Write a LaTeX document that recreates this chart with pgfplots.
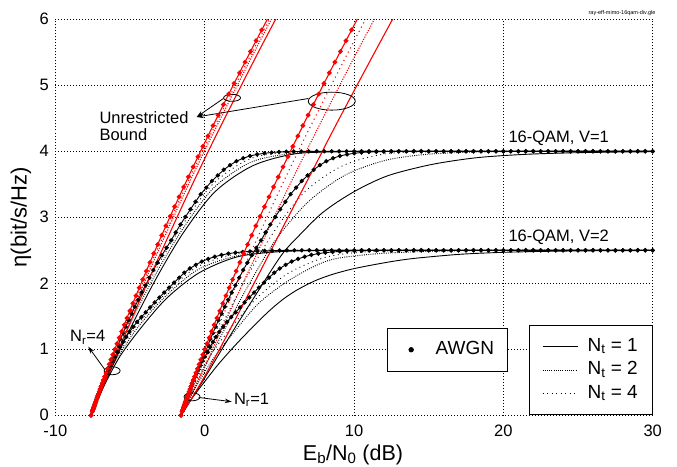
\documentclass[border=0pt]{standalone}
\usepackage{fontspec}
\setmainfont{Liberation Sans}
\usepackage{pgfplots}
\pgfplotsset{compat=1.18}
\usetikzlibrary{arrows.meta}
\pgfplotsset{
 awgnK/.style={black, line width=0.9pt, mark=*, mark size=1.7pt, mark options={solid}, forget plot},
 ntoneK/.style={black, line width=0.9pt, smooth, tension=0.5, forget plot},
 nttwoK/.style={black, line width=0.9pt, dash pattern=on 0.9pt off 1.3pt, smooth, tension=0.5, forget plot},
 ntfourK/.style={black, line width=0.9pt, dash pattern=on 0.9pt off 3.6pt, smooth, tension=0.5, forget plot},
 awgnR/.style={red, line width=1.1pt, mark=*, mark size=1.8pt, mark options={solid}, forget plot},
 ntoneR/.style={red, line width=1.1pt, smooth, tension=0.5, forget plot},
 nttwoR/.style={red, line width=1.1pt, dash pattern=on 1.1pt off 1.4pt, smooth, tension=0.5, forget plot},
 ntfourR/.style={red, line width=1.1pt, dash pattern=on 1.1pt off 3.6pt, smooth, tension=0.5, forget plot},
}
\begin{document}
\begin{tikzpicture}
\path[use as bounding box] (-55.4pt,-50.7pt) rectangle (621.6pt,415.3pt);
\begin{axis}[
  at={(0pt,0pt)}, anchor=south west,
  scale only axis, width=597.3pt, height=396pt,
  xmin=-10, xmax=30, ymin=0, ymax=6,
  xtick={-10,0,10,20,30}, ytick={0,1,2,3,4,5,6},
  grid=major, grid style={black, line width=0.8pt, dash pattern=on 0.8pt off 2.2pt},
  axis line style={draw=none},
  major tick length=0pt,
  ticklabel style={font=\fontsize{16.5}{19}\selectfont},
  xticklabel style={yshift=-6pt},
  yticklabel style={xshift=-3pt},
  /pgf/number format/assume math mode=true,
  legend style={at={(rel axis cs:1,0)}, anchor=south east, draw=black, line width=0.9pt,
    fill=white, font=\fontsize{19}{22}\selectfont,
    nodes={font=\fontsize{19}{22}\selectfont, inner xsep=1.5pt, inner ysep=1.5pt, text height=13.5pt, text depth=4.5pt},
    inner xsep=13pt, inner ysep=10.5pt, row sep=2.5pt,
    /tikz/every odd column/.append style={column sep=8pt},
    cells={anchor=west}},
  legend image code/.code={\draw[#1, line width=0.9pt] (0pt,0pt) -- (35pt,0pt);},
]
% ---------- Nr = 1, V = 1 ----------
\addplot[awgnK] coordinates {(-1.592,0) (-1.507,0.0563) (-1.485,0.0706) (-1.459,0.0883) (-1.424,0.1103) (-1.406,0.1232) (-1.383,0.1375) (-1.359,0.1534) (-1.332,0.1711) (-1.301,0.1906) (-1.269,0.2122) (-1.232,0.2361) (-1.191,0.2625) (-1.146,0.2915) (-1.096,0.3233) (-1.041,0.3582) (-0.981,0.3964) (-0.915,0.4381) (-0.844,0.4835) (-0.759,0.532) (-0.672,0.585) (-0.569,0.641) (-0.463,0.702) (-0.342,0.766) (-0.217,0.835) (-0.081,0.908) (0.088,0.98) (0.226,1.065) (0.374,1.155) (0.548,1.245) (0.729,1.34) (0.916,1.44) (1.125,1.54) (1.338,1.645) (1.570,1.75) (1.805,1.86) (2.055,1.97) (2.309,2.085) (2.576,2.20) (2.860,2.312) (3.153,2.425) (3.457,2.537) (3.768,2.65) (4.075,2.77) (4.391,2.89) (4.722,3.005) (5.058,3.12) (5.401,3.235) (5.750,3.35) (6.122,3.45) (6.498,3.55) (6.895,3.635) (7.295,3.72) (7.714,3.79) (8.145,3.85) (8.595,3.895) (9.056,3.93) (9.531,3.953) (10.012,3.97) (10.499,3.982) (10.990,3.99) (11.486,3.994) (11.983,3.997) (12.482,3.998) (12.980,3.999) (13.5,4) (14,4) (14.5,4) (15,4) (15.5,4) (16,4) (16.5,4) (17,4) (17.5,4) (18,4) (18.5,4) (19,4) (19.5,4) (20,4) (20.5,4) (21,4) (21.5,4) (22,4) (22.5,4) (23,4) (23.5,4) (24,4) (24.5,4) (25,4) (25.5,4) (26,4) (26.5,4) (27,4) (27.5,4) (28,4) (28.5,4) (29,4) (29.5,4) (30,4)};
\addplot[ntoneK] coordinates {(-1.592,0) (-1.21,0.1322) (-0.896,0.2458) (-0.132,0.5167) (0.735,0.8443) (1.912,1.2845) (3.401,1.8193) (5.15,2.43) (6.39,2.74) (7.73,3.04) (9.0,3.25) (10.5,3.45) (12.39,3.64) (15.19,3.80) (18.09,3.90) (21.04,3.949) (23.99,3.974) (27.0,3.987) (30.0,3.9935)};
\addplot[nttwoK] coordinates {(-1.592,0) (-1.03,0.253) (-0.375,0.5464) (0.414,0.9092) (1.550,1.3963) (2.996,1.997) (4.754,2.6584) (6.91,3.23) (9.39,3.638) (12.13,3.865) (15.03,3.957) (17.99,3.988) (20.98,3.997) (24,4) (30,4)};
\addplot[ntfourK] coordinates {(-1.592,0) (-0.99,0.315) (-0.515,0.5643) (0.243,0.9455) (1.355,1.4606) (2.804,2.0873) (4.584,2.7643) (6.703,3.3861) (9.225,3.78) (12.02,3.96) (14.99,3.9925) (18,4) (30,4)};
% ---------- Nr = 1, V = 2 ----------
\addplot[awgnK] coordinates {(-1.592,0) (-1.507,0.0563) (-1.485,0.0706) (-1.459,0.0883) (-1.424,0.1103) (-1.406,0.1232) (-1.383,0.1375) (-1.359,0.1534) (-1.332,0.1711) (-1.301,0.1906) (-1.269,0.2122) (-1.232,0.2361) (-1.191,0.2625) (-1.146,0.2915) (-1.096,0.3233) (-1.041,0.3582) (-0.981,0.3964) (-0.915,0.4381) (-0.844,0.4835) (-0.751,0.531) (-0.657,0.583) (-0.541,0.637) (-0.420,0.695) (-0.291,0.757) (-0.154,0.823) (0.006,0.89) (0.200,0.955) (0.359,1.033) (0.547,1.11) (0.752,1.188) (0.979,1.265) (1.229,1.34) (1.492,1.415) (1.774,1.488) (2.069,1.56) (2.365,1.635) (2.670,1.71) (2.984,1.785) (3.305,1.86) (3.633,1.935) (3.968,2.01) (4.309,2.085) (4.655,2.16) (5.026,2.225) (5.421,2.28) (5.826,2.33) (6.253,2.37) (6.693,2.403) (7.144,2.43) (7.608,2.45) (8.082,2.465) (8.564,2.475) (9.050,2.483) (9.541,2.488) (10.034,2.492) (10.529,2.495) (11.026,2.497) (11.522,2.499) (12,2.5) (12.5,2.5) (13,2.5) (13.5,2.5) (14,2.5) (14.5,2.5) (15,2.5) (15.5,2.5) (16,2.5) (16.5,2.5) (17,2.5) (17.5,2.5) (18,2.5) (18.5,2.5) (19,2.5) (19.5,2.5) (20,2.5) (20.5,2.5) (21,2.5) (21.5,2.5) (22,2.5) (22.5,2.5) (23,2.5) (23.5,2.5) (24,2.5) (24.5,2.5) (25,2.5) (25.5,2.5) (26,2.5) (26.5,2.5) (27,2.5) (27.5,2.5) (28,2.5) (28.5,2.5) (29,2.5) (29.5,2.5) (30,2.5)};
\addplot[ntoneK] coordinates {(-1.592,0) (-1.21,0.1322) (-0.896,0.2458) (-0.024,0.504) (0.995,0.7953) (2.400,1.1481) (4.121,1.54) (5.2,1.75) (6.191,1.90) (7.4,2.04) (8.621,2.14) (9.95,2.22) (11.40,2.285) (12.8,2.34) (14.22,2.382) (17.12,2.44) (20.07,2.47) (23.05,2.485) (26.03,2.4925) (29.03,2.4963) (30.5,2.4975)};
\addplot[nttwoK] coordinates {(-1.592,0) (-1.03,0.253) (-0.31,0.5383) (0.607,0.8696) (1.977,1.2656) (3.671,1.7097) (5.836,2.072) (8.296,2.3466) (11.13,2.44) (14.06,2.4766) (17.03,2.4934) (20.02,2.498) (30,2.5)};
\addplot[ntfourK] coordinates {(-1.592,0) (-0.99,0.315) (-0.472,0.5587) (0.397,0.9126) (1.764,1.3293) (3.499,1.7789) (5.655,2.1602) (8.197,2.4008) (11.055,2.48) (14.03,2.497) (17.02,2.5) (30,2.5)};
% ---------- Nr = 4, V = 1 ----------
\addplot[awgnK] coordinates {(-7.612,0) (-7.527,0.0563) (-7.505,0.0706) (-7.479,0.0883) (-7.444,0.1103) (-7.426,0.1232) (-7.403,0.1375) (-7.379,0.1534) (-7.352,0.1711) (-7.321,0.1906) (-7.289,0.2122) (-7.252,0.2361) (-7.211,0.2625) (-7.166,0.2915) (-7.116,0.3233) (-7.061,0.3582) (-7.001,0.3964) (-6.935,0.4381) (-6.864,0.4835) (-6.779,0.532) (-6.692,0.585) (-6.589,0.641) (-6.483,0.702) (-6.362,0.766) (-6.237,0.835) (-6.101,0.908) (-5.932,0.98) (-5.794,1.065) (-5.646,1.155) (-5.472,1.245) (-5.291,1.34) (-5.104,1.44) (-4.895,1.54) (-4.682,1.645) (-4.450,1.75) (-4.215,1.86) (-3.965,1.97) (-3.711,2.085) (-3.444,2.20) (-3.160,2.312) (-2.867,2.425) (-2.563,2.537) (-2.252,2.65) (-1.945,2.77) (-1.629,2.89) (-1.298,3.005) (-0.962,3.12) (-0.619,3.235) (-0.270,3.35) (0.102,3.45) (0.478,3.55) (0.875,3.635) (1.275,3.72) (1.694,3.79) (2.125,3.85) (2.575,3.895) (3.036,3.93) (3.511,3.953) (3.992,3.97) (4.479,3.982) (4.970,3.99) (5.466,3.994) (5.963,3.997) (6.462,3.998) (6.960,3.999) (7.5,4) (8,4) (8.5,4) (9,4) (9.5,4) (10,4) (10.5,4) (11,4) (11.5,4) (12,4) (12.5,4) (13,4) (13.5,4) (14,4) (14.5,4) (15,4) (15.5,4) (16,4) (16.5,4) (17,4) (17.5,4) (18,4) (18.5,4) (19,4) (19.5,4) (20,4) (20.5,4) (21,4) (21.5,4) (22,4) (22.5,4) (23,4) (23.5,4) (24,4) (24.5,4) (25,4) (25.5,4) (26,4) (26.5,4) (27,4) (27.5,4) (28,4) (28.5,4) (29,4) (29.5,4) (30,4)};
\addplot[ntoneK] coordinates {(-7.612,0) (-7.01,0.315) (-6.535,0.5643) (-5.777,0.9455) (-4.665,1.4606) (-3.216,2.0873) (-1.436,2.7643) (0.683,3.3861) (3.205,3.78) (6.0,3.96) (8.97,3.9925) (11.98,4) (30,4)};
\addplot[nttwoK] coordinates {(-7.612,0) (-7.06,0.315) (-6.607,0.5737) (-5.833,0.9579) (-4.765,1.4943) (-3.306,2.1312) (-1.509,2.8115) (0.606,3.4467) (3.138,3.839) (5.99,3.9707) (8.96,3.998) (11.96,4) (30,4)};
\addplot[ntfourK] coordinates {(-7.612,0) (-7.10,0.315) (-6.649,0.5793) (-5.889,0.9704) (-4.832,1.5176) (-3.379,2.1673) (-1.576,2.855) (0.537,3.5019) (3.08,3.8907) (5.97,3.9904) (8.96,4) (30,4)};
% ---------- Nr = 4, V = 2 ----------
\addplot[awgnK] coordinates {(-7.612,0) (-7.527,0.0563) (-7.505,0.0706) (-7.479,0.0883) (-7.444,0.1103) (-7.426,0.1232) (-7.403,0.1375) (-7.379,0.1534) (-7.352,0.1711) (-7.321,0.1906) (-7.289,0.2122) (-7.252,0.2361) (-7.211,0.2625) (-7.166,0.2915) (-7.116,0.3233) (-7.061,0.3582) (-7.001,0.3964) (-6.935,0.4381) (-6.864,0.4835) (-6.771,0.531) (-6.677,0.583) (-6.561,0.637) (-6.440,0.695) (-6.311,0.757) (-6.174,0.823) (-6.014,0.89) (-5.820,0.955) (-5.661,1.033) (-5.473,1.11) (-5.268,1.188) (-5.041,1.265) (-4.791,1.34) (-4.528,1.415) (-4.246,1.488) (-3.951,1.56) (-3.655,1.635) (-3.350,1.71) (-3.036,1.785) (-2.715,1.86) (-2.387,1.935) (-2.052,2.01) (-1.711,2.085) (-1.365,2.16) (-0.994,2.225) (-0.599,2.28) (-0.194,2.33) (0.233,2.37) (0.673,2.403) (1.124,2.43) (1.588,2.45) (2.062,2.465) (2.544,2.475) (3.030,2.483) (3.521,2.488) (4.014,2.492) (4.509,2.495) (5.006,2.497) (5.502,2.499) (6,2.5) (6.5,2.5) (7,2.5) (7.5,2.5) (8,2.5) (8.5,2.5) (9,2.5) (9.5,2.5) (10,2.5) (10.5,2.5) (11,2.5) (11.5,2.5) (12,2.5) (12.5,2.5) (13,2.5) (13.5,2.5) (14,2.5) (14.5,2.5) (15,2.5) (15.5,2.5) (16,2.5) (16.5,2.5) (17,2.5) (17.5,2.5) (18,2.5) (18.5,2.5) (19,2.5) (19.5,2.5) (20,2.5) (20.5,2.5) (21,2.5) (21.5,2.5) (22,2.5) (22.5,2.5) (23,2.5) (23.5,2.5) (24,2.5) (24.5,2.5) (25,2.5) (25.5,2.5) (26,2.5) (26.5,2.5) (27,2.5) (27.5,2.5) (28,2.5) (28.5,2.5) (29,2.5) (29.5,2.5) (30,2.5)};
\addplot[ntoneK] coordinates {(-7.612,0) (-7.01,0.315) (-6.492,0.5587) (-5.623,0.9126) (-4.256,1.3293) (-2.521,1.7789) (-0.365,2.1602) (2.177,2.4008) (5.035,2.48) (8.01,2.497) (11,2.5) (30,2.5)};
\addplot[nttwoK] coordinates {(-7.612,0) (-7.06,0.315) (-6.58,0.5702) (-5.696,0.9282) (-4.371,1.3648) (-2.595,1.8094) (-0.459,2.2076) (2.15,2.4158) (5.026,2.4853) (8.0,2.4985) (11.0,2.5) (30,2.5)};
\addplot[ntfourK] coordinates {(-7.612,0) (-7.10,0.315) (-6.628,0.5764) (-5.766,0.9432) (-4.452,1.3905) (-2.663,1.838) (-0.531,2.2445) (2.094,2.4469) (5.011,2.494) (8.0,2.5) (30,2.5)};
% ---------- unrestricted bound, Nr = 1 ----------
\addplot[ntoneR] coordinates {(-1.592,0) (-1.21,0.1322) (-0.896,0.2458) (-0.18,0.5213) (0.654,0.8603) (1.767,1.3315) (3.656,2.1546) (5.366,2.9065) (7.286,3.7361) (8.47,4.262) (10.05,4.9377) (12.30,5.884) (14.65,6.8525)};
\addplot[nttwoR] coordinates {(-1.592,0) (-1.026,0.2533) (-0.411,0.5497) (0.355,0.9215) (1.419,1.4427) (2.781,2.1085) (4.994,3.1663) (6.926,4.0585) (9.741,5.3078) (12.02,6.2816)};
\addplot[ntfourR] coordinates {(-1.592,0) (-0.984,0.3151) (-0.716,0.4716) (0.186,0.958) (1.222,1.5094) (2.576,2.2104) (4.801,3.3105) (6.751,4.2261) (9.591,5.4938) (11.888,6.4751)};
\addplot[awgnR] coordinates {(-1.592,0) (-1.507,0.0563) (-1.485,0.0706) (-1.459,0.0883) (-1.424,0.1103) (-1.406,0.1232) (-1.383,0.1375) (-1.359,0.1534) (-1.332,0.1711) (-1.301,0.1906) (-1.269,0.2122) (-1.232,0.2361) (-1.191,0.2625) (-1.146,0.2915) (-1.096,0.3233) (-1.041,0.3582) (-0.981,0.3964) (-0.915,0.4381) (-0.844,0.4835) (-0.765,0.5328) (-0.680,0.5861) (-0.587,0.6437) (-0.486,0.7057) (-0.378,0.7723) (-0.261,0.8435) (-0.135,0.9193) (0,1) (0.146,1.0848) (0.297,1.1756) (0.459,1.2708) (0.633,1.3701) (0.815,1.4742) (1.006,1.5827) (1.207,1.6954) (1.418,1.8122) (1.638,1.9330) (1.867,2.0574) (2.105,2.1853) (2.352,2.3165) (2.607,2.4507) (2.871,2.5878) (3.142,2.7276) (3.422,2.8698) (3.708,3.0143) (4.002,3.1608) (4.303,3.3092) (4.610,3.4594) (4.923,3.6112) (5.243,3.7643) (5.568,3.9189) (5.899,4.0746) (6.235,4.2313) (6.576,4.3890) (6.922,4.5476) (7.273,4.7070) (7.627,4.8671) (7.986,5.0278) (8.349,5.1890) (8.716,5.3509) (9.086,5.5131) (9.460,5.6758) (9.837,5.8388) (10.217,6.0022) (10.600,6.1658)};
% ---------- unrestricted bound, Nr = 4 ----------
\addplot[ntoneR] coordinates {(-7.612,0) (-7.0,0.315) (-6.736,0.4716) (-5.834,0.958) (-4.798,1.5094) (-3.444,2.2104) (-1.219,3.3105) (0.731,4.2261) (3.571,5.4938) (5.868,6.4751)};
\addplot[nttwoR] coordinates {(-7.612,0) (-7.06,0.315) (-6.811,0.4716) (-5.965,0.958) (-4.974,1.5094) (-3.660,2.2104) (-1.471,3.3105) (0.463,4.2261) (3.291,5.4938) (5.583,6.4751)};
\addplot[ntfourR] coordinates {(-7.612,0) (-7.10,0.315) (-6.847,0.4716) (-6.027,0.958) (-5.059,1.5094) (-3.764,2.2104) (-1.593,3.3105) (0.334,4.2261) (3.157,5.4938) (5.447,6.4751)};
\addplot[awgnR] coordinates {(-7.612,0) (-7.527,0.0563) (-7.505,0.0706) (-7.479,0.0883) (-7.444,0.1103) (-7.426,0.1232) (-7.403,0.1375) (-7.379,0.1534) (-7.352,0.1711) (-7.321,0.1906) (-7.289,0.2122) (-7.252,0.2361) (-7.211,0.2625) (-7.166,0.2915) (-7.116,0.3233) (-7.061,0.3582) (-7.001,0.3964) (-6.935,0.4381) (-6.864,0.4835) (-6.785,0.5328) (-6.700,0.5861) (-6.607,0.6437) (-6.506,0.7057) (-6.398,0.7723) (-6.281,0.8435) (-6.155,0.9193) (-6.020,1) (-5.874,1.0848) (-5.723,1.1756) (-5.561,1.2708) (-5.387,1.3701) (-5.205,1.4742) (-5.014,1.5827) (-4.813,1.6954) (-4.602,1.8122) (-4.382,1.9330) (-4.153,2.0574) (-3.915,2.1853) (-3.668,2.3165) (-3.413,2.4507) (-3.149,2.5878) (-2.878,2.7276) (-2.598,2.8698) (-2.312,3.0143) (-2.018,3.1608) (-1.717,3.3092) (-1.410,3.4594) (-1.097,3.6112) (-0.777,3.7643) (-0.452,3.9189) (-0.121,4.0746) (0.215,4.2313) (0.556,4.3890) (0.902,4.5476) (1.253,4.7070) (1.607,4.8671) (1.966,5.0278) (2.329,5.1890) (2.696,5.3509) (3.066,5.5131) (3.440,5.6758) (3.817,5.8388) (4.197,6.0022) (4.580,6.1658)};
% ---------- legend (N_t) ----------
\addlegendimage{black, solid}
\addlegendentry{N\textsubscript{t} = 1}
\addlegendimage{black, dash pattern=on 0.9pt off 1.3pt}
\addlegendentry{N\textsubscript{t} = 2}
\addlegendimage{black, dash pattern=on 0.9pt off 3.6pt}
\addlegendentry{N\textsubscript{t} = 4}
% ---------- annotations ----------
\draw[line width=0.8pt] (axis cs:1.83,4.81) ellipse [x radius=8.5pt, y radius=3.5pt];
\draw[line width=0.8pt] (axis cs:8.51,4.76) ellipse [x radius=23.5pt, y radius=9pt];
\draw[line width=0.8pt, -{Stealth[length=7pt, width=4.5pt]}] (axis cs:1.25,4.80) -- (axis cs:-0.54,4.52);
\draw[line width=0.8pt, -{Stealth[length=7pt, width=4.5pt]}] (axis cs:6.94,4.80) -- (axis cs:-0.54,4.52);
\node[anchor=base west, inner sep=0pt, font=\fontsize{16.5}{19}\selectfont] at (axis cs:-7.06,4.414) {Unrestricted};
\node[anchor=base west, inner sep=0pt, font=\fontsize{16.5}{19}\selectfont] at (axis cs:-7.06,4.17) {Bound};
\draw[line width=0.8pt] (axis cs:-6.2,0.675) ellipse [x radius=8pt, y radius=4pt];
\draw[line width=0.8pt, -{Stealth[length=7pt, width=4.5pt]}] (axis cs:-6.68,0.69) -- (axis cs:-7.80,1.04);
\node[anchor=base west, inner sep=0pt, font=\fontsize{16.5}{19}\selectfont] at (axis cs:-9.02,1.115) {N\textsubscript{r}=4};
\draw[line width=0.8pt] (axis cs:-0.85,0.28) ellipse [x radius=8pt, y radius=4pt];
\draw[line width=0.8pt, -{Stealth[length=7pt, width=4.5pt]}] (axis cs:-0.4,0.27) -- (axis cs:1.81,0.206);
\node[anchor=base west, inner sep=0pt, font=\fontsize{16.5}{19}\selectfont] at (axis cs:1.95,0.17) {N\textsubscript{r}=1};
\node[anchor=base west, inner sep=0pt, font=\fontsize{16.5}{19}\selectfont] at (axis cs:20.33,4.13) {16-QAM, V=1};
\node[anchor=base west, inner sep=0pt, font=\fontsize{16.5}{19}\selectfont] at (axis cs:20.33,2.63) {16-QAM, V=2};
\end{axis}
\begin{axis}[
  at={(0pt,0pt)}, anchor=south west,
  scale only axis, width=597.3pt, height=396pt,
  xmin=-10, xmax=30, ymin=0, ymax=6,
  hide axis,
  legend style={at={(rel axis cs:0.5547,0.1101)}, anchor=south west, draw=black, line width=0.9pt,
    fill=white, font=\fontsize{19}{22}\selectfont,
    nodes={font=\fontsize{19}{22}\selectfont, inner xsep=1.5pt, inner ysep=1.5pt, text height=13.5pt, text depth=4.5pt},
    inner xsep=12pt, inner ysep=11pt},
  legend image code/.code={\path[draw=none, fill=none] (0pt,-1pt) rectangle (35pt,1pt); \draw[mark repeat=2, mark phase=2, #1] plot coordinates {(0pt,0pt) (12pt,0pt) (35pt,0pt)};},
]
\addlegendimage{only marks, mark=*, mark size=2.2pt, black}
\addlegendentry{AWGN}
\end{axis}
\node[font=\fontsize{21.5}{25}\selectfont, anchor=base] at (297.6pt,-44.7pt) {E\textsubscript{b}/N\textsubscript{0} (dB)};
\node[font=\fontsize{22}{26}\selectfont, rotate=90] at (-34.5pt,198pt) {η(bit/s/Hz)};
\node[font=\fontsize{5.5}{6}\selectfont] at (566.6pt,402.3pt) {ray-eff-mimo-16qam-div.gle};
\end{tikzpicture}
\end{document}
